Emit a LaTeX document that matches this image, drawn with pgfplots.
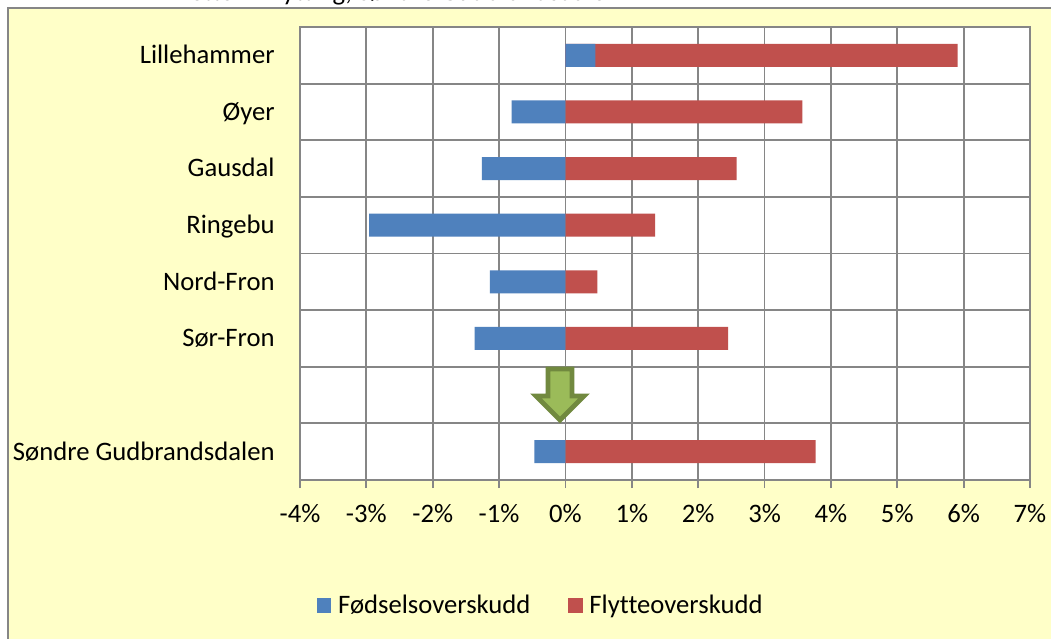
\documentclass[border=0pt]{standalone}
\usepackage{pgfplots}
\pgfplotsset{compat=1.18}
\usepackage{fontspec}
\setmainfont[Ligatures=NoCommon]{Carlito}
\definecolor{bgy}{HTML}{FFFFC8}
\definecolor{gridg}{HTML}{868686}
\definecolor{bl}{HTML}{4F81BD}
\definecolor{rd}{HTML}{C0504D}
\definecolor{gf}{HTML}{9BBB59}
\definecolor{gd}{HTML}{71893F}
\begin{document}
\begin{tikzpicture}[x=0.75pt,y=-0.75pt]
\path[use as bounding box] (0,0) rectangle (1051,639);
\begin{scope}
\clip (0,0) rectangle (1051,639);
\node[anchor=base east,font=\fontsize{20}{22}\selectfont,text=black,inner sep=0pt] at (620,1) {Nettoinnflytting, Søndre Gudbrandsdalen};
\fill[bgy,draw=gridg,line width=1.4pt] (8,8) rectangle (1060,650);
\end{scope}
\begin{axis}[
  at={(225pt,-360pt)},anchor=south west,
  scale only axis,width=547.5pt,height=339.75pt,
  xmin=-4,xmax=7,ymin=-0.5,ymax=7.5,y dir=reverse,
  axis background/.style={fill=white},
  xbar,bar width=17.2pt,bar shift=0pt,
  xtick={-4,...,7},
  xticklabel={\pgfmathprintnumber{\tick}\%},
  ytick={0,1,2,3,4,5,7},
  yticklabels={Lillehammer,Øyer,Gausdal,Ringebu,Nord-Fron,Sør-Fron,Søndre Gudbrandsdalen},
  extra y ticks={0.5,1.5,2.5,3.5,4.5,5.5,6.5},
  extra y tick labels={},
  extra y tick style={grid=major,major grid style={gridg,line width=1.4pt}},
  xmajorgrids,
  major grid style={gridg,line width=1.4pt},
  axis line style={gridg,line width=1.4pt},
  x tick style={draw=gridg,line width=1.4pt},
  y tick style={draw=none},
  tick align=outside,major tick length=6pt,
  axis x line*=bottom,axis y line*=left,
  x axis line style={-},y axis line style={-},
  tick label style={font=\fontsize{20}{22}\selectfont,text=black},
  /pgf/number format/assume math mode=true,
  xticklabel style={yshift=-9pt},
  yticklabel style={xshift=-9.5pt,text height=12.5pt,text depth=0pt},
  clip=false,
  legend style={at={(0.33,-0.276)},anchor=center,draw=none,fill=none,legend columns=2,
    font=\fontsize{20}{22}\selectfont,/tikz/every even column/.append style={column sep=26pt}},
  legend image code/.code={\fill[#1,draw=none] (0pt,-5.6pt) rectangle (11.2pt,5.6pt);\path (14pt,0pt);},
]
\addlegendimage{fill=bl}
\addlegendimage{fill=rd}
\addlegendentry{Fødselsoverskudd}
\addlegendentry{Flytteoverskudd}
\addplot[forget plot,fill=rd,draw=none] coordinates {(5.91,0) (3.57,1) (2.58,2) (1.35,3) (0.48,4) (2.45,5) (3.77,7)};
\addplot[forget plot,fill=bl,draw=none] coordinates {(0.45,0) (-0.81,1) (-1.26,2) (-2.96,3) (-1.14,4) (-1.37,5) (-0.47,7)};
\end{axis}
\draw[gridg,line width=1.4pt] (300,27) rectangle (1030,480);
\draw[fill=gf,draw=gd,line width=3.6pt,line join=miter] (548,369) -- (572,369) -- (572,396) -- (584,396) -- (560,420) -- (536,396) -- (548,396) -- cycle;
\end{tikzpicture}
\end{document}
